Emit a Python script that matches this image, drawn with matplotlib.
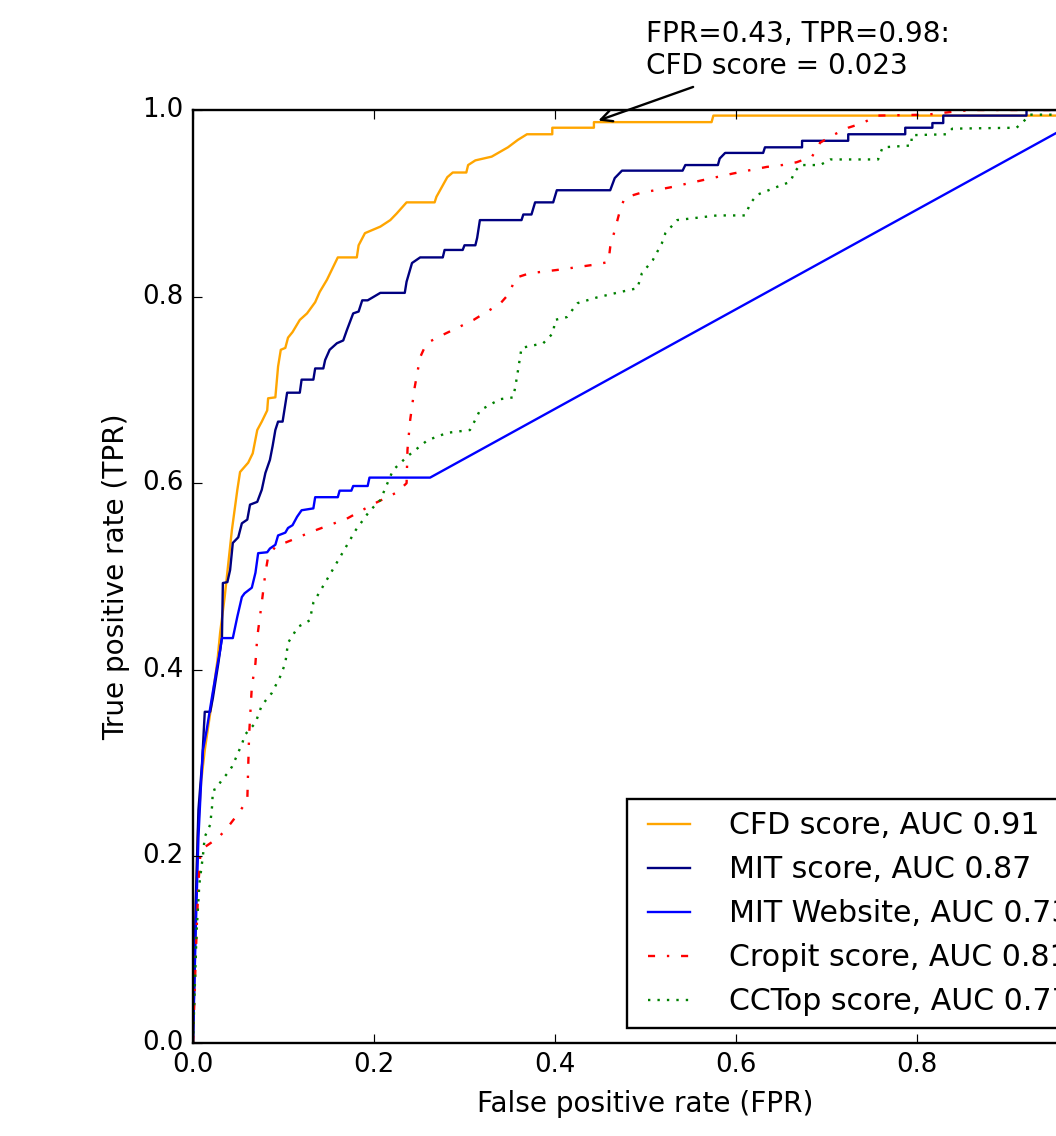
import numpy as np
import matplotlib
matplotlib.use('Agg')
import matplotlib.pyplot as plt

plt.style.use('classic')

# ROC curves, (FPR, TPR) pairs
cfd_pts = np.array([
    (0, 0), (0.002, 0.10), (0.005, 0.22), (0.009, 0.28), (0.013, 0.314), (0.020, 0.36),
    (0.027, 0.41), (0.030, 0.44), (0.035, 0.478), (0.043, 0.55), (0.049, 0.593), (0.052, 0.612),
    (0.061, 0.622), (0.066, 0.632), (0.071, 0.657), (0.076, 0.666), (0.082, 0.678), (0.083, 0.691),
    (0.091, 0.692), (0.094, 0.725), (0.097, 0.743), (0.102, 0.745), (0.105, 0.756), (0.110, 0.762),
    (0.118, 0.775), (0.126, 0.782), (0.135, 0.794), (0.140, 0.805), (0.148, 0.818), (0.157, 0.836),
    (0.160, 0.842), (0.181, 0.842), (0.183, 0.855), (0.190, 0.868), (0.207, 0.875), (0.218, 0.882),
    (0.225, 0.889), (0.236, 0.901), (0.267, 0.901), (0.269, 0.907), (0.281, 0.928), (0.287, 0.933),
    (0.302, 0.933), (0.304, 0.941), (0.312, 0.946), (0.330, 0.950), (0.339, 0.955), (0.348, 0.960),
    (0.359, 0.968), (0.369, 0.974), (0.397, 0.974), (0.397, 0.981), (0.443, 0.981), (0.443, 0.987),
    (0.573, 0.987), (0.575, 0.994), (0.960, 0.994), (0.962, 1.0), (1.0, 1.0)])

mit_pts = np.array([
    (0, 0), (0.003, 0.15), (0.006, 0.25), (0.010, 0.30), (0.013, 0.355), (0.019, 0.355),
    (0.022, 0.37), (0.028, 0.407), (0.032, 0.435), (0.033, 0.493), (0.038, 0.494), (0.041, 0.507),
    (0.044, 0.536), (0.050, 0.542), (0.054, 0.557), (0.060, 0.561), (0.063, 0.577), (0.071, 0.580),
    (0.076, 0.593), (0.080, 0.611), (0.085, 0.625), (0.088, 0.640), (0.091, 0.657), (0.094, 0.666),
    (0.099, 0.666), (0.104, 0.697), (0.118, 0.697), (0.120, 0.711), (0.133, 0.711), (0.135, 0.723),
    (0.144, 0.723), (0.146, 0.732), (0.151, 0.743), (0.159, 0.750), (0.166, 0.753), (0.170, 0.764),
    (0.177, 0.782), (0.183, 0.784), (0.187, 0.796), (0.193, 0.796), (0.207, 0.804), (0.234, 0.804),
    (0.236, 0.816), (0.242, 0.836), (0.251, 0.842), (0.276, 0.842), (0.278, 0.850), (0.298, 0.850),
    (0.300, 0.855), (0.312, 0.855), (0.314, 0.863), (0.317, 0.882), (0.363, 0.882), (0.365, 0.888),
    (0.374, 0.888), (0.378, 0.901), (0.398, 0.901), (0.402, 0.914), (0.461, 0.914), (0.466, 0.927),
    (0.474, 0.935), (0.541, 0.935), (0.544, 0.941), (0.580, 0.941), (0.582, 0.948), (0.588, 0.954),
    (0.630, 0.954), (0.632, 0.960), (0.673, 0.960), (0.673, 0.967), (0.724, 0.967), (0.724, 0.974),
    (0.787, 0.974), (0.787, 0.981), (0.817, 0.981), (0.817, 0.986), (0.829, 0.986), (0.829, 0.994),
    (0.921, 0.994), (0.921, 1.0), (1.0, 1.0)])

web_pts = np.array([
    (0, 0), (0.003, 0.12), (0.006, 0.22), (0.009, 0.28), (0.011, 0.314), (0.015, 0.335),
    (0.021, 0.371), (0.026, 0.400), (0.030, 0.421), (0.032, 0.434), (0.044, 0.434), (0.049, 0.457),
    (0.054, 0.478), (0.057, 0.482), (0.065, 0.488), (0.069, 0.504), (0.072, 0.525), (0.082, 0.526),
    (0.085, 0.530), (0.091, 0.534), (0.094, 0.544), (0.102, 0.547), (0.105, 0.552), (0.110, 0.555),
    (0.115, 0.564), (0.120, 0.571), (0.133, 0.573), (0.135, 0.585), (0.160, 0.585), (0.162, 0.592),
    (0.175, 0.592), (0.177, 0.597), (0.193, 0.597), (0.195, 0.606), (0.262, 0.606), (1.0, 1.0)])

cropit_pts = np.array([
    (0, 0), (0.002, 0.06), (0.004, 0.12), (0.006, 0.17), (0.008, 0.20), (0.013, 0.210),
    (0.028, 0.220), (0.039, 0.232), (0.050, 0.246), (0.060, 0.260), (0.061, 0.296), (0.062, 0.330),
    (0.065, 0.382), (0.069, 0.407), (0.071, 0.435), (0.076, 0.472), (0.080, 0.504), (0.083, 0.521),
    (0.091, 0.532), (0.109, 0.539), (0.131, 0.548), (0.170, 0.562), (0.200, 0.578), (0.225, 0.590),
    (0.236, 0.600), (0.237, 0.636), (0.240, 0.668), (0.245, 0.703), (0.251, 0.735), (0.258, 0.750),
    (0.276, 0.759), (0.291, 0.766), (0.310, 0.775), (0.325, 0.784), (0.339, 0.792), (0.350, 0.804),
    (0.356, 0.820), (0.372, 0.825), (0.406, 0.829), (0.442, 0.834), (0.459, 0.837), (0.461, 0.853),
    (0.466, 0.871), (0.472, 0.893), (0.477, 0.906), (0.494, 0.911), (0.527, 0.917), (0.564, 0.925),
    (0.597, 0.932), (0.634, 0.939), (0.651, 0.941), (0.667, 0.944), (0.684, 0.950), (0.693, 0.965),
    (0.707, 0.973), (0.724, 0.981), (0.740, 0.986), (0.756, 0.994), (0.811, 0.995), (0.829, 0.997),
    (0.859, 1.0), (1.0, 1.0)])

cctop_pts = np.array([
    (0, 0), (0.002, 0.06), (0.004, 0.12), (0.007, 0.17), (0.011, 0.201), (0.013, 0.221),
    (0.019, 0.234), (0.021, 0.253), (0.022, 0.271), (0.025, 0.272), (0.032, 0.282), (0.038, 0.289),
    (0.043, 0.296), (0.049, 0.309), (0.055, 0.323), (0.057, 0.330), (0.069, 0.343), (0.076, 0.362),
    (0.087, 0.375), (0.096, 0.392), (0.102, 0.407), (0.105, 0.429), (0.109, 0.435), (0.116, 0.446),
    (0.129, 0.453), (0.133, 0.472), (0.150, 0.500), (0.165, 0.525), (0.180, 0.550), (0.195, 0.570),
    (0.207, 0.582), (0.221, 0.614), (0.236, 0.628), (0.259, 0.646), (0.281, 0.654), (0.306, 0.657),
    (0.312, 0.668), (0.317, 0.678), (0.328, 0.684), (0.339, 0.690), (0.354, 0.692), (0.358, 0.714),
    (0.363, 0.745), (0.387, 0.750), (0.398, 0.761), (0.400, 0.775), (0.413, 0.778), (0.425, 0.793),
    (0.446, 0.799), (0.468, 0.804), (0.491, 0.809), (0.496, 0.825), (0.508, 0.839), (0.518, 0.857),
    (0.522, 0.868), (0.535, 0.882), (0.579, 0.887), (0.610, 0.887), (0.616, 0.900), (0.623, 0.909),
    (0.649, 0.919), (0.660, 0.923), (0.665, 0.934), (0.671, 0.941), (0.693, 0.941), (0.704, 0.947),
    (0.757, 0.947), (0.762, 0.960), (0.794, 0.962), (0.794, 0.973), (0.833, 0.974), (0.839, 0.980),
    (0.910, 0.981), (0.919, 0.989), (0.925, 0.995), (0.990, 0.995), (1.0, 1.0)])

labels = ['CFD score, AUC 0.91', 'MIT score, AUC 0.87', 'MIT Website, AUC 0.73',
          'Cropit score, AUC 0.81', 'CCTop score, AUC 0.77']

DPI = 170
fig = plt.figure(figsize=(1056 / DPI, 1136 / DPI), dpi=DPI, facecolor='white')
# axes run past the right edge, as in the cropped original
ax = fig.add_axes([193 / 1056, 93 / 1136, 905 / 1056, 933 / 1136])

ax.plot(cfd_pts[:, 0], cfd_pts[:, 1], color='orange', ls='-', label=labels[0])
ax.plot(mit_pts[:, 0], mit_pts[:, 1], color='navy', ls='-', label=labels[1])
ax.plot(web_pts[:, 0], web_pts[:, 1], color='blue', ls='-', label=labels[2])
ax.plot(cropit_pts[:, 0], cropit_pts[:, 1], color='red', ls='-.', label=labels[3])
ax.plot(cctop_pts[:, 0], cctop_pts[:, 1], color='green', ls=':', label=labels[4])

ax.set_xlim(0, 1)
ax.set_ylim(0, 1)
ax.set_xlabel('False positive rate (FPR)', fontsize=11.8)
ax.set_ylabel('True positive rate (TPR)', fontsize=11.8)
ax.tick_params(labelsize=11)

ax.annotate('FPR=0.43, TPR=0.98:\nCFD score = 0.023', xy=(0.443, 0.987), xytext=(0.5, 1.032),
            textcoords='data', va='bottom', ha='left', fontsize=11.8,
            arrowprops=dict(arrowstyle='->', color='black'))

ax.legend(loc='lower right', fontsize=12.7, handletextpad=1.0)

fig.savefig('out.png', dpi=DPI, facecolor='white')
